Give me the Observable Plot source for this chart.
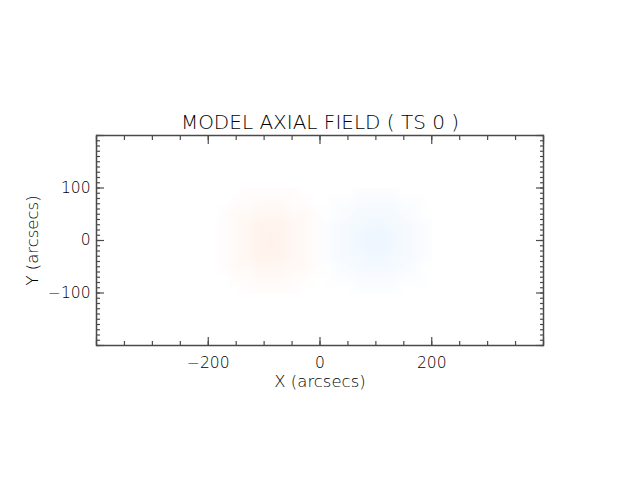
<!DOCTYPE html>
<html>
<head>
<meta charset="utf-8">
<script src="https://cdn.jsdelivr.net/npm/d3@7"></script>
<script src="https://cdn.jsdelivr.net/npm/@observablehq/plot@0.6"></script>
<style>
  html, body { margin: 0; padding: 0; background: #fff; }
  svg { display: block; }
</style>
</head>
<body>
<div id="chart"></div>
<script>
// Grid of model axial field (arbitrary intensity units; + red, − blue)
const xCenters = [-190,-170,-150,-130,-110,-90,-70,-50,-30,-10,10,30,50,70,90,110,130,150,170,190];
const yCenters = [90,70,50,30,10,-10,-30,-50,-70,-90];
const field = [
  [0,0,0,1,1,1,1,1,0,0,0,0,0,-1,-1,-1,-1,0,0,0],
  [0,0,1,1,3,3,3,1,1,0,0,-1,-1,-3,-3,-3,-3,-1,-1,0],
  [0,1,3,3,5,5,5,3,3,1,0,-1,-3,-5,-5,-5,-5,-3,-1,0],
  [0,1,3,5,7,7,7,5,3,1,-1,-3,-5,-5,-7,-7,-5,-5,-3,-1],
  [0,1,3,5,7,9,7,5,3,1,-1,-3,-5,-7,-9,-9,-7,-5,-3,-1],
  [0,1,3,5,7,9,7,5,3,1,-1,-3,-5,-7,-9,-9,-7,-5,-3,-1],
  [0,1,3,5,7,7,7,5,3,1,-1,-3,-5,-5,-7,-7,-5,-5,-3,-1],
  [0,1,3,3,5,5,5,3,3,1,0,-1,-3,-5,-5,-5,-5,-3,-1,0],
  [0,0,1,1,3,3,3,1,1,0,0,-1,-1,-3,-3,-3,-3,-1,-1,0],
  [0,0,0,1,1,1,1,1,0,0,0,0,0,-1,-1,-1,-1,0,0,0]
];
const xLabelTicks = [-200, 0, 200];
const yLabelTicks = [-100, 0, 100];
const title = "MODEL AXIAL FIELD ( TS 0 )";
const xTitle = "X (arcsecs)";
const yTitle = "Y (arcsecs)";

const dxCell = Math.abs(xCenters[1] - xCenters[0]);
const dyCell = Math.abs(yCenters[1] - yCenters[0]);
const values = field.flat();

const majorX = d3.range(-400, 401, 200);
const minorX = d3.range(-400, 401, 50);
const majorY = d3.range(-200, 201, 100);
const minorY = d3.range(-200, 201, 10);
const ink = "#000";
const frameInk = "#4a4a4a";
const font = "DejaVu Sans, sans-serif";

const chart = Plot.plot({
  width: 640,
  height: 480,
  marginLeft: 96,
  marginRight: 97,
  marginTop: 135,
  marginBottom: 135,
  style: {fontFamily: font, fontSize: "15px", color: ink, background: "#fff"},
  x: {domain: [-400, 400]},
  y: {domain: [-200, 200]},
  color: {type: "linear", domain: [-9, -1, 0, 1, 9],
          range: ["#eef6ff", "#fbfdff", "#ffffff", "#fffcfb", "#fff2ea"]},
  marks: [
    Plot.raster(values, {
      width: xCenters.length, height: yCenters.length,
      x1: xCenters[0] - dxCell / 2, x2: xCenters[xCenters.length - 1] + dxCell / 2,
      y1: yCenters[0] + dyCell / 2, y2: yCenters[yCenters.length - 1] - dyCell / 2,
      fill: d => d
    }),
    // tick labels
    Plot.axisX(xLabelTicks, {anchor: "bottom", tickSize: 0, tickPadding: 11, label: null, fontSize: 15.5, fill: ink, fontWeight: 300}),
    Plot.axisY(yLabelTicks, {anchor: "left", tickSize: 0, tickPadding: 6, label: null, fontSize: 15.5, fill: ink, fontWeight: 300}),
    // inward ticks, all four sides
    Plot.axisX(majorX, {anchor: "bottom", tickSize: -8, text: null, label: null, stroke: frameInk, strokeWidth: 1.2}),
    Plot.axisX(minorX, {anchor: "bottom", tickSize: -4, text: null, label: null, stroke: frameInk, strokeWidth: 1.2}),
    Plot.axisX(majorX, {anchor: "top", tickSize: -8, text: null, label: null, stroke: frameInk, strokeWidth: 1.2}),
    Plot.axisX(minorX, {anchor: "top", tickSize: -4, text: null, label: null, stroke: frameInk, strokeWidth: 1.2}),
    Plot.axisY(majorY, {anchor: "left", tickSize: -8, text: null, label: null, stroke: frameInk, strokeWidth: 1.2}),
    Plot.axisY(minorY, {anchor: "left", tickSize: -4, text: null, label: null, stroke: frameInk, strokeWidth: 1.2}),
    Plot.axisY(majorY, {anchor: "right", tickSize: -8, text: null, label: null, stroke: frameInk, strokeWidth: 1.2}),
    Plot.axisY(minorY, {anchor: "right", tickSize: -4, text: null, label: null, stroke: frameInk, strokeWidth: 1.2}),
    Plot.frame({stroke: frameInk, strokeWidth: 1.5}),
    Plot.text([title], {frameAnchor: "top", dy: -7, lineAnchor: "bottom", textAnchor: "middle", fontSize: 20, fontWeight: 300, fill: ink, text: d => d}),
    Plot.text([xTitle], {frameAnchor: "bottom", dy: 36, lineAnchor: "middle", textAnchor: "middle", fontSize: 16.5, fontWeight: 300, fill: ink, text: d => d}),
    Plot.text([yTitle], {frameAnchor: "left", dx: -64, rotate: -90, textAnchor: "middle", fontSize: 16.5, fontWeight: 300, fill: ink, text: d => d})
  ]
});
document.getElementById("chart").appendChild(chart);
</script>
</body>
</html>
